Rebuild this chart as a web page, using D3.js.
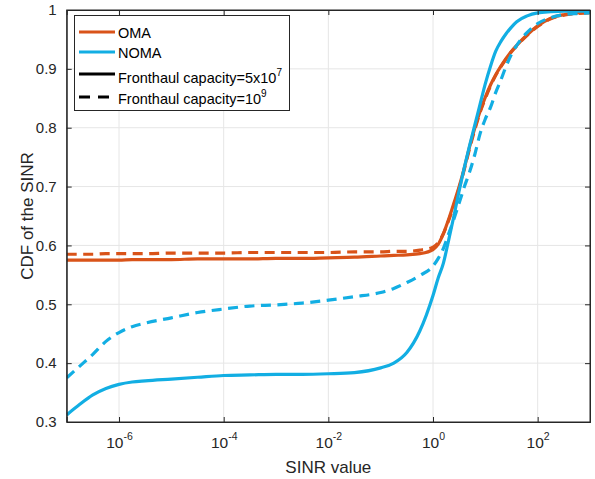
<!DOCTYPE html>
<html>
<head>
<meta charset="utf-8">
<script src="https://cdn.jsdelivr.net/npm/d3@7"></script>
<style>
body { margin: 0; background: #fff; }
svg { font-family: "Liberation Sans", Arial, sans-serif; }
</style>
</head>
<body>
<div id="graph"></div>
<script>
// SINR grid shared by all curves
const sinr = [1e-7, 1.78e-7, 3.16e-7, 5.62e-7, 1e-6, 1.78e-6, 3.16e-6, 1e-5, 3.16e-5, 1e-4,
    3.16e-4, 1e-3, 3.16e-3, 1e-2, 3.16e-2, 0.1, 0.178, 0.316, 0.562, 1,
    1.26, 1.58, 2, 2.51, 3.16, 3.98, 5.01, 6.31, 7.94, 10,
    12.6, 15.8, 20, 25.1, 31.6, 39.8, 63.1, 100, 178, 316, 562, 1000];

const omaLow = [0.575, 0.575, 0.575, 0.575, 0.575, 0.576, 0.576, 0.576, 0.577, 0.577,
    0.577, 0.578, 0.578, 0.579, 0.580, 0.582, 0.583, 0.584, 0.586, 0.593,
    0.602, 0.620, 0.645, 0.672, 0.700, 0.732, 0.768, 0.800, 0.828, 0.852,
    0.873, 0.890, 0.905, 0.918, 0.930, 0.940, 0.958, 0.973, 0.986, 0.992, 0.995, 0.996];

const omaHigh = [0.585, 0.585, 0.585, 0.586, 0.586, 0.586, 0.586, 0.587, 0.587, 0.587,
    0.588, 0.588, 0.588, 0.588, 0.589, 0.589, 0.590, 0.590, 0.592, 0.597,
    0.605, 0.620, 0.643, 0.668, 0.697, 0.730, 0.765, 0.797, 0.826, 0.850,
    0.871, 0.889, 0.904, 0.917, 0.929, 0.939, 0.957, 0.972, 0.985, 0.991, 0.994, 0.995];

const nomaLow = [0.312, 0.330, 0.346, 0.357, 0.364, 0.368, 0.370, 0.373, 0.376, 0.379,
    0.380, 0.381, 0.381, 0.382, 0.384, 0.392, 0.400, 0.418, 0.455, 0.515,
    0.545, 0.570, 0.610, 0.650, 0.693, 0.733, 0.770, 0.805, 0.840, 0.875,
    0.905, 0.930, 0.947, 0.960, 0.971, 0.980, 0.990, 0.995, 0.997, 0.998, 0.998, 0.998];

const nomaHigh = [0.375, 0.395, 0.415, 0.437, 0.452, 0.462, 0.468, 0.477, 0.486, 0.492,
    0.497, 0.499, 0.502, 0.507, 0.513, 0.520, 0.527, 0.537, 0.549, 0.565,
    0.578, 0.595, 0.620, 0.645, 0.672, 0.700, 0.725, 0.755, 0.790, 0.815,
    0.835, 0.860, 0.882, 0.905, 0.925, 0.940, 0.962, 0.977, 0.987, 0.992, 0.994, 0.995];

const xTicks = [1e-6, 1e-4, 1e-2, 1, 1e2];
const xTickExp = ["-6", "-4", "-2", "0", "2"];
const yTicks = [0.3, 0.4, 0.5, 0.6, 0.7, 0.8, 0.9, 1];

const orange = "#D95319";
const cyan = "#12AEE3";

const width = 595, height = 479;
const pLeft = 66.7, pRight = 590, pTop = 10, pBottom = 422;

const svg = d3.select("#graph").append("svg")
    .attr("width", width)
    .attr("height", height);

const x = d3.scaleLog().domain([1e-7, 1e3]).range([pLeft, pRight]);
const y = d3.scaleLinear().domain([0.3, 1]).range([pBottom, pTop]);

// grid
svg.append("g").selectAll("line").data(xTicks).enter().append("line")
    .attr("x1", d => x(d)).attr("x2", d => x(d))
    .attr("y1", pTop).attr("y2", pBottom)
    .attr("stroke", "#e6e6e6").attr("stroke-width", 1);
svg.append("g").selectAll("line").data(yTicks.slice(1, -1)).enter().append("line")
    .attr("x1", pLeft).attr("x2", pRight)
    .attr("y1", d => y(d)).attr("y2", d => y(d))
    .attr("stroke", "#e6e6e6").attr("stroke-width", 1);

svg.append("clipPath").attr("id", "clip")
    .append("rect").attr("x", pLeft).attr("y", pTop)
    .attr("width", pRight - pLeft).attr("height", pBottom - pTop);

let line = d3.line()
    .x((d, i) => x(sinr[i]))
    .y(d => y(d))
    .curve(d3.curveMonotoneX);

let curves = [
    { vals: omaLow, color: orange, dash: null },
    { vals: omaHigh, color: orange, dash: "10,6.5" },
    { vals: nomaLow, color: cyan, dash: null },
    { vals: nomaHigh, color: cyan, dash: "10,6.5" }
];

let g = svg.append("g").attr("clip-path", "url(#clip)");
g.selectAll("path").data(curves).enter().append("path")
    .attr("d", d => line(d.vals))
    .attr("fill", "none")
    .attr("stroke", d => d.color)
    .attr("stroke-width", 3.2)
    .attr("stroke-dasharray", d => d.dash);

// axes
let axisColor = "#262626";

let xg = svg.append("g")
    .attr("transform", "translate(0," + pBottom + ")")
    .call(d3.axisBottom(x).tickValues(xTicks).tickSize(-5).tickFormat(""));
xg.selectAll("text").remove();
xg.selectAll(".tick").append("text")
    .attr("fill", axisColor)
    .attr("y", 26)
    .attr("text-anchor", "middle")
    .attr("font-size", "15.5px")
    .each(function (d, i) {
        let t = d3.select(this);
        t.append("tspan").text("10");
        t.append("tspan").attr("dy", -8).attr("font-size", "10.5px").text(xTickExp[i]);
    });

let xTop = svg.append("g")
    .attr("transform", "translate(0," + pTop + ")")
    .call(d3.axisTop(x).tickValues(xTicks).tickSize(-5).tickFormat(""));

let yg = svg.append("g")
    .attr("transform", "translate(" + pLeft + ",0)")
    .call(d3.axisLeft(y).tickValues(yTicks).tickSize(-5).tickPadding(10)
        .tickFormat(d => d === 1 ? "1" : d.toFixed(1)));
yg.selectAll("text").attr("font-size", "15px").attr("fill", axisColor)
    .attr("font-family", "Liberation Sans, Arial, sans-serif");

let yRight = svg.append("g")
    .attr("transform", "translate(" + pRight + ",0)")
    .call(d3.axisRight(y).tickValues(yTicks).tickSize(-5).tickFormat(""));

[xg, xTop, yg, yRight].forEach(a => {
    a.selectAll("path").attr("stroke", axisColor).attr("stroke-width", 1);
    a.selectAll("line").attr("stroke", axisColor);
});
svg.append("rect")
    .attr("x", pLeft).attr("y", pTop)
    .attr("width", pRight - pLeft).attr("height", pBottom - pTop)
    .attr("fill", "none").attr("stroke", axisColor).attr("stroke-width", 1);

// axis labels
svg.append("text")
    .attr("x", (pLeft + pRight) / 2)
    .attr("y", 473)
    .attr("text-anchor", "middle")
    .attr("font-size", "17px")
    .attr("fill", axisColor)
    .text("SINR value");

svg.append("text")
    .attr("transform", "translate(33," + ((pTop + pBottom) / 2) + ") rotate(-90)")
    .attr("text-anchor", "middle")
    .attr("font-size", "17px")
    .attr("fill", axisColor)
    .text("CDF of the SINR");

// legend
let leg = svg.append("g");
leg.append("rect")
    .attr("x", 74.5).attr("y", 15.5)
    .attr("width", 215).attr("height", 95)
    .attr("fill", "#fff").attr("stroke", axisColor).attr("stroke-width", 1);

let legItems = [
    { color: orange, dash: null, label: "OMA", sup: null, y: 32, base: 37.5 },
    { color: cyan, dash: null, label: "NOMA", sup: null, y: 52, base: 57.5 },
    { color: "#000", dash: null, label: "Fronthaul capacity=5x10", sup: "7", y: 74, base: 82.5 },
    { color: "#000", dash: "11,8", label: "Fronthaul capacity=10", sup: "9", y: 97, base: 103.5 }
];

let items = leg.selectAll(".item").data(legItems).enter().append("g");
items.append("line")
    .attr("x1", 79).attr("x2", 115)
    .attr("y1", d => d.y).attr("y2", d => d.y)
    .attr("stroke", d => d.color)
    .attr("stroke-width", 3.2)
    .attr("stroke-dasharray", d => d.dash);
items.append("text")
    .attr("x", 118)
    .attr("y", d => d.base)
    .attr("font-size", "14.5px")
    .attr("fill", "#000")
    .each(function (d) {
        let t = d3.select(this);
        t.append("tspan").text(d.label);
        if (d.sup) t.append("tspan").attr("dy", -7).attr("font-size", "10px").text(d.sup);
    });
</script>
</body>
</html>
